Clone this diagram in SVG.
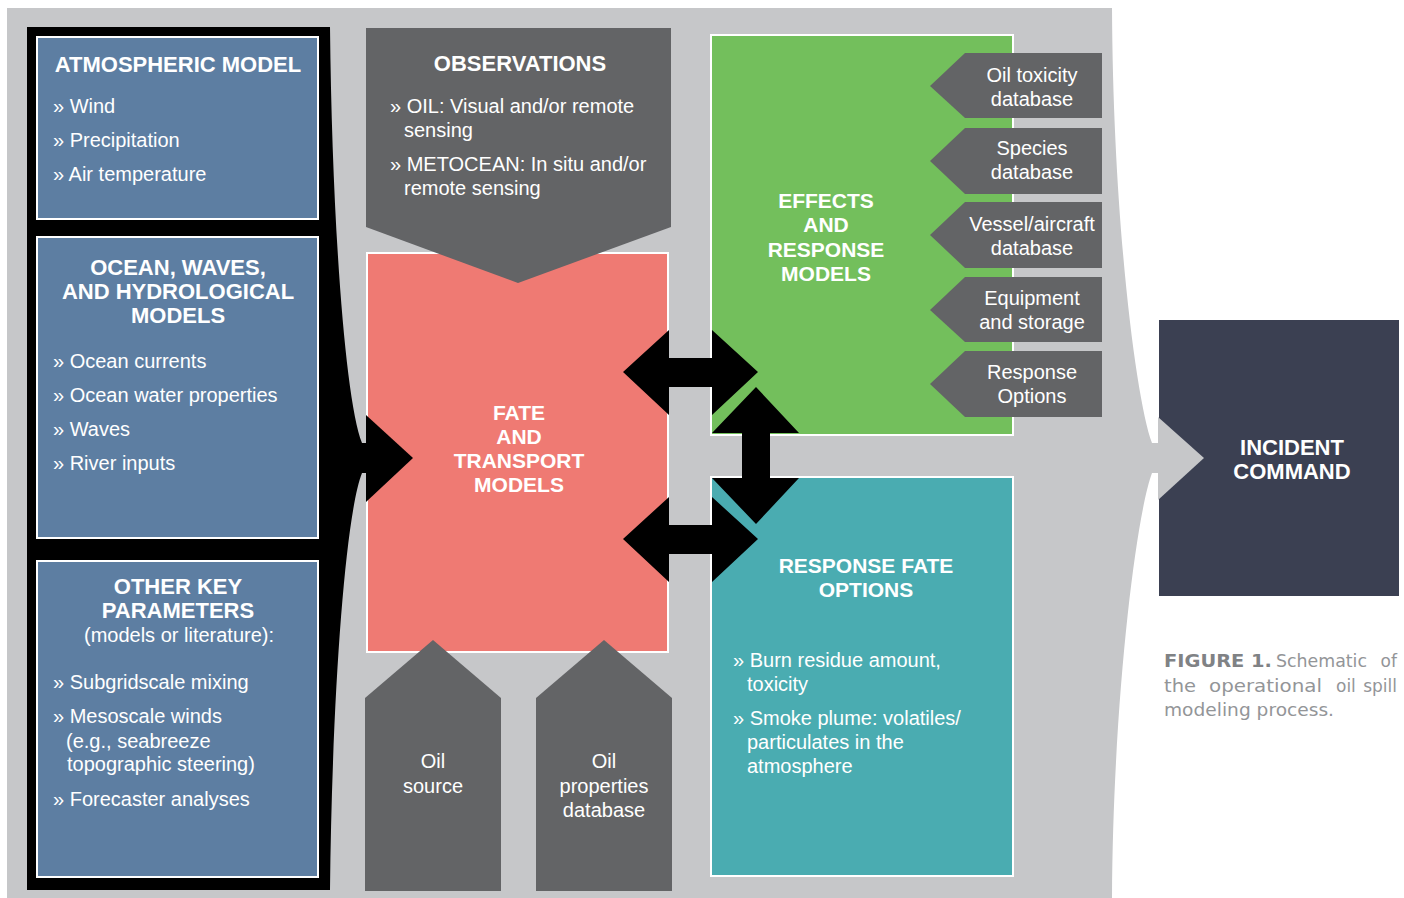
<svg xmlns="http://www.w3.org/2000/svg" width="1404" height="898" viewBox="0 0 1404 898">
<style>
text{font-family:"Liberation Sans",Arial,sans-serif;fill:#fff}
.h{font-weight:bold;font-size:22px;text-anchor:middle}
.h21{font-weight:bold;font-size:21px;text-anchor:middle}
.t{font-size:20px}
.c{font-size:20px;text-anchor:middle}
.box{stroke:#fff;stroke-width:2}
.blue{fill:#5D7EA2}
.dg{fill:#636466}
.blk{fill:#000}
.cap{font-family:"DejaVu Sans",Verdana,sans-serif;font-size:17px;fill:#939598}
.capb{font-weight:bold;fill:#808285}
</style>
<rect width="1404" height="898" fill="#fff"/>

<g id="panel">
<path d="M7,8 L1112,8 C1113,220 1136,400 1152,443 L1160,443 L1160,473 L1152,473 C1136,516 1113,700 1112,898 L7,898 Z" fill="#C6C7C9"/>
</g>

<g id="input-panel">
<path d="M27,27 L330,27 C332,220 345,400 362,443 L368,443 L368,473 L362,473 C345,516 332,700 330,890 L27,890 Z" class="blk"/>
</g>

<g id="atmospheric-model">
<rect class="box blue" x="37" y="37" width="281" height="182"/>
<text class="h" x="178" y="72">ATMOSPHERIC MODEL</text>
<text class="t" x="53" y="113">» Wind</text>
<text class="t" x="53" y="147">» Precipitation</text>
<text class="t" x="53" y="181">» Air temperature</text>
</g>

<g id="ocean-models">
<rect class="box blue" x="37" y="237" width="281" height="301"/>
<text class="h" x="178" y="275">OCEAN, WAVES,</text>
<text class="h" x="178" y="299">AND HYDROLOGICAL</text>
<text class="h" x="178" y="323">MODELS</text>
<text class="t" x="53" y="368">» Ocean currents</text>
<text class="t" x="53" y="402">» Ocean water properties</text>
<text class="t" x="53" y="436">» Waves</text>
<text class="t" x="53" y="470">» River inputs</text>
</g>

<g id="other-parameters">
<rect class="box blue" x="37" y="561" width="281" height="316"/>
<text class="h" x="178" y="594">OTHER KEY</text>
<text class="h" x="178" y="618">PARAMETERS</text>
<text class="c" x="179" y="642">(models or literature):</text>
<text class="t" x="53" y="689">» Subgridscale mixing</text>
<text class="t" x="53" y="723">» Mesoscale winds</text>
<text class="t" x="66" y="748">(e.g., seabreeze</text>
<text class="t" x="67" y="771">topographic steering)</text>
<text class="t" x="53" y="806">» Forecaster analyses</text>
</g>

<g id="fate-transport">
<rect class="box" fill="#EF7A73" x="367" y="253" width="301" height="399"/>
<text class="h21" x="519" y="420">FATE</text>
<text class="h21" x="519" y="444">AND</text>
<text class="h21" x="519" y="468">TRANSPORT</text>
<text class="h21" x="519" y="492">MODELS</text>
</g>

<g id="observations">
<polygon class="dg" points="366,28 671,28 671,227 518,283 366,227"/>
<text class="h" x="520" y="71">OBSERVATIONS</text>
<text class="t" x="390" y="113">» OIL: Visual and/or remote</text>
<text class="t" x="404" y="137">sensing</text>
<text class="t" x="390" y="171">» METOCEAN: In situ and/or</text>
<text class="t" x="404" y="195">remote sensing</text>
</g>

<g id="oil-source">
<polygon class="dg" points="365,891 365,698 433,640 501,698 501,891"/>
<text class="c" x="433" y="768">Oil</text>
<text class="c" x="433" y="793">source</text>
</g>

<g id="oil-properties">
<polygon class="dg" points="536,891 536,698 604,640 672,698 672,891"/>
<text class="c" x="604" y="768">Oil</text>
<text class="c" x="604" y="793">properties</text>
<text class="c" x="604" y="817">database</text>
</g>

<g id="effects-response">
<rect class="box" fill="#73BF5C" x="711" y="35" width="302" height="400"/>
<text class="h21" x="826" y="208">EFFECTS</text>
<text class="h21" x="826" y="232">AND</text>
<text class="h21" x="826" y="257">RESPONSE</text>
<text class="h21" x="826" y="281">MODELS</text>
</g>

<g id="oil-toxicity-db">
<polygon class="dg" points="930,86 965,53 1102,53 1102,118 965,118"/>
<text class="c" x="1032" y="82">Oil toxicity</text>
<text class="c" x="1032" y="106">database</text>
</g>
<g id="species-db">
<polygon class="dg" points="930,161 965,128 1102,128 1102,194 965,194"/>
<text class="c" x="1032" y="155">Species</text>
<text class="c" x="1032" y="179">database</text>
</g>
<g id="vessel-db">
<polygon class="dg" points="930,235 965,202 1102,202 1102,268 965,268"/>
<text class="c" x="1032" y="231">Vessel/aircraft</text>
<text class="c" x="1032" y="255">database</text>
</g>
<g id="equipment">
<polygon class="dg" points="930,310 965,277 1102,277 1102,342 965,342"/>
<text class="c" x="1032" y="305">Equipment</text>
<text class="c" x="1032" y="329">and storage</text>
</g>
<g id="response-options">
<polygon class="dg" points="930,384 965,351 1102,351 1102,417 965,417"/>
<text class="c" x="1032" y="379">Response</text>
<text class="c" x="1032" y="403">Options</text>
</g>

<g id="response-fate">
<rect class="box" fill="#4AACB1" x="711" y="477" width="302" height="399"/>
<text class="h21" x="866" y="573">RESPONSE FATE</text>
<text class="h21" x="866" y="597">OPTIONS</text>
<text class="t" x="733" y="667">» Burn residue amount,</text>
<text class="t" x="747" y="691">toxicity</text>
<text class="t" x="733" y="725">» Smoke plume: volatiles/</text>
<text class="t" x="747" y="749">particulates in the</text>
<text class="t" x="747" y="773">atmosphere</text>
</g>

<g id="incident-command">
<rect fill="#3B4052" x="1159" y="320" width="240" height="276"/>
<text class="h" x="1292" y="455">INCIDENT</text>
<text class="h" x="1292" y="479">COMMAND</text>
</g>

<g id="connectors">
<polygon class="blk" points="366,415 413,458 366,502"/>
<polygon fill="#C6C7C9" points="1158,417 1204,458 1158,500"/>
<polygon class="blk" points="623,372 669,330 669,358 712,358 712,330 758,372 712,415 712,387 669,387 669,415"/>
<polygon class="blk" points="623,539 669,497 669,525 712,525 712,497 758,539 712,582 712,554 669,554 669,582"/>
<polygon class="blk" points="756,387 799,433 770,433 770,478 799,478 756,524 712,478 742,478 742,433 712,433"/>
</g>

<g id="caption">
<text class="cap capb" x="1164" y="667" textLength="108" lengthAdjust="spacingAndGlyphs">FIGURE 1.</text>
<text class="cap" x="1276" y="667" textLength="91" lengthAdjust="spacingAndGlyphs">Schematic</text>
<text class="cap" x="1397" y="667" text-anchor="end">of</text>
<text class="cap" x="1164" y="692" textLength="32" lengthAdjust="spacingAndGlyphs">the</text>
<text class="cap" x="1209" y="692" textLength="113" lengthAdjust="spacingAndGlyphs">operational</text>
<text class="cap" x="1336" y="692">oil</text>
<text class="cap" x="1397" y="692" text-anchor="end">spill</text>
<text class="cap" x="1164" y="716" textLength="170" lengthAdjust="spacingAndGlyphs">modeling process.</text>
</g>
</svg>
